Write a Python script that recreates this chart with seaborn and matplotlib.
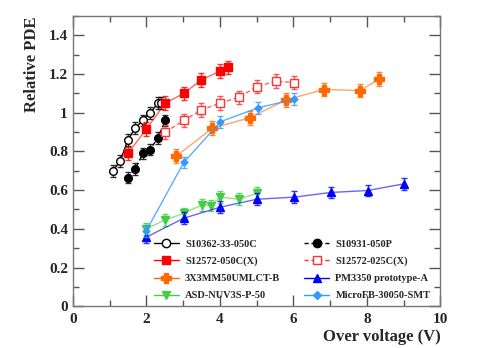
import matplotlib
matplotlib.use("Agg")
import matplotlib.pyplot as plt
import matplotlib.ticker as ticker
import seaborn as sns

# Over voltage (V) / relative PDE
s10362_v = [1.09, 1.29, 1.50, 1.70, 1.90, 2.11, 2.32, 2.41]
s10362_pde = [0.70, 0.75, 0.86, 0.92, 0.96, 1.00, 1.05, 1.05]

s10931_v = [1.50, 1.70, 1.91, 2.11, 2.31, 2.52]
s10931_pde = [0.665, 0.71, 0.79, 0.81, 0.87, 0.96]

s12572_050_v = [1.50, 2.00, 2.52, 3.02, 3.50, 4.01, 4.21]
s12572_050_pde = [0.79, 0.915, 1.05, 1.10, 1.17, 1.215, 1.235]

s12572_025_v = [2.52, 3.02, 3.50, 4.01, 4.52, 5.01, 5.52, 6.03]
s12572_025_pde = [0.90, 0.96, 1.015, 1.05, 1.08, 1.135, 1.163, 1.156]

mm3x3_v = [2.82, 3.80, 4.81, 5.81, 6.83, 7.82, 8.33]
mm3x3_pde = [0.777, 0.92, 0.974, 1.067, 1.12, 1.115, 1.174]

pm3350_v = [2.00, 3.02, 4.01, 5.01, 6.03, 7.02, 8.02, 9.02]
pm3350_pde = [0.357, 0.455, 0.512, 0.553, 0.564, 0.588, 0.598, 0.633]

asd_v = [2.00, 2.52, 3.02, 3.51, 3.76, 4.01, 4.52, 5.01]
asd_pde = [0.40, 0.447, 0.48, 0.524, 0.52, 0.564, 0.553, 0.584]

microfb_v = [2.00, 3.02, 4.01, 5.03, 6.03]
microfb_pde = [0.39, 0.743, 0.953, 1.025, 1.07]

series = [
    # label, x, y, err, color, line alpha, linestyle, marker, size, filled
    ("S10362-33-050C", s10362_v, s10362_pde, 0.03, "black", 1.0, "-", "o", 5.5, False),
    ("S12572-050C(X)", s12572_050_v, s12572_050_pde, 0.035, "#ff0000", 0.6, "-", "s", 5.5, True),
    ("3X3MM50UMLCT-B", mm3x3_v, mm3x3_pde, 0.035, "#ff6a00", 0.6, "-", "P", 6.5, True),
    ("ASD-NUV3S-P-50", asd_v, asd_pde, 0.03, "#44cc44", 0.6, "-", "v", 5.5, True),
    ("S10931-050P", s10931_v, s10931_pde, 0.03, "black", 1.0, (0, (3, 2)), "o", 5.5, True),
    ("S12572-025C(X)", s12572_025_v, s12572_025_pde, 0.035, "#ff3333", 0.8, (0, (3, 2)), "s", 5.5, False),
    ("PM3350 prototype-A", pm3350_v, pm3350_pde, 0.03, "#0000ff", 0.6, "-", "^", 5.5, True),
    ("MicroFB-30050-SMT", microfb_v, microfb_pde, 0.03, "#3399ff", 0.8, "-", "D", 3.5, True),
]

sns.set_style("ticks")
plt.rcParams["font.family"] = ["Liberation Serif", "DejaVu Serif"]
plt.rcParams["font.weight"] = "bold"

fig = plt.figure(figsize=(4.85, 3.48), dpi=100)
ax = fig.add_axes([0.15, 0.12, 0.758, 0.834])

for label, xs, ys, err, color, la, ls, mk, ms, filled in series:
    sns.lineplot(x=xs, y=ys, ax=ax, color=color, alpha=la, linestyle=ls,
                 linewidth=1.0, sort=False, estimator=None)
    ax.errorbar(xs, ys, yerr=err, fmt="none", ecolor=color, elinewidth=1.0,
                capsize=2, alpha=0.8)
    ax.plot(xs, ys, linestyle="none", marker=mk, markersize=ms,
            markerfacecolor=color if filled else "white",
            markeredgecolor=color, markeredgewidth=1.0)
    # legend proxy
    ax.plot([], [], color=color, linestyle=ls, linewidth=1.0, marker=mk,
            markersize=ms + 0.5, markerfacecolor=color if filled else "white",
            markeredgecolor=color, label=label)

ax.set_xlim(0, 10)
ax.set_ylim(0, 1.5)
ax.xaxis.set_major_locator(ticker.MultipleLocator(2))
ax.xaxis.set_minor_locator(ticker.MultipleLocator(1))
ax.yaxis.set_major_locator(ticker.MultipleLocator(0.2))
ax.yaxis.set_minor_locator(ticker.MultipleLocator(0.1))
ax.xaxis.set_major_formatter(ticker.FuncFormatter(lambda v, p: f"{v:g}"))
ax.yaxis.set_major_formatter(ticker.FuncFormatter(lambda v, p: f"{v:g}"))
ax.tick_params(which="both", direction="in", top=True, right=True,
               color="#555555", labelsize=11)
ax.tick_params(which="major", length=8, width=1.0)
ax.tick_params(which="minor", length=4, width=1.0)
ax.tick_params(axis="x", pad=5)
for sp in ax.spines.values():
    sp.set_color("#777777")
    sp.set_linewidth(1.0)
for lab in ax.get_xticklabels() + ax.get_yticklabels():
    lab.set_fontweight("bold")

ax.set_xlabel("Over voltage (V)", fontsize=12, fontweight="bold", ha="right", x=1.0)
ax.set_ylabel("Relative PDE", fontsize=12, fontweight="bold", ha="right", y=1.0)
ax.xaxis.set_label_coords(1.0, -0.078)
ax.yaxis.set_label_coords(-0.088, 1.0)

handles, labels = ax.get_legend_handles_labels()
leg = ax.legend(handles, labels, ncol=2, loc="lower left", bbox_to_anchor=(0.195, -0.012),
                frameon=False, fontsize=7.5, handlelength=2.4, columnspacing=2.3,
                labelspacing=0.75, handletextpad=0.6)
for t in leg.get_texts():
    t.set_fontweight("bold")

fig.savefig("out.png", dpi=100)
plt.close(fig)
